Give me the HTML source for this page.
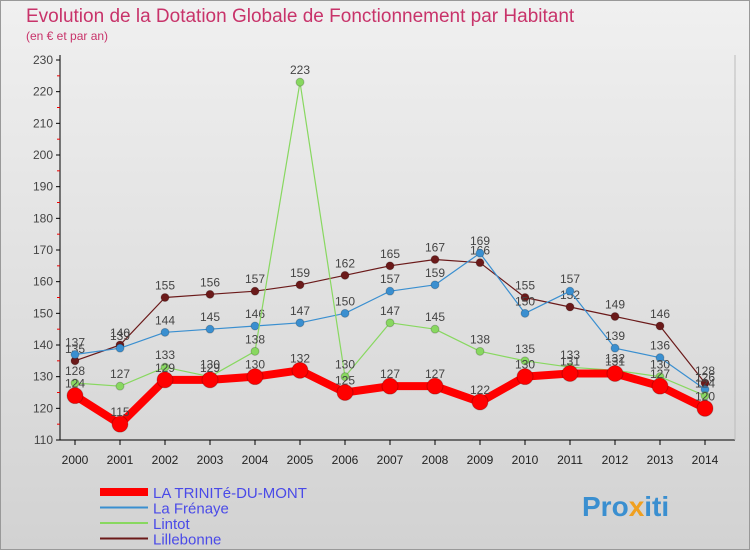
<!DOCTYPE html>
<html><head><meta charset="utf-8"><style>
body{margin:0;width:750px;height:550px;overflow:hidden;font-family:"Liberation Sans",sans-serif;}
</style></head><body>
<svg width="750" height="550" xmlns="http://www.w3.org/2000/svg">
<defs><linearGradient id="bg" x1="0" y1="0" x2="0" y2="1"><stop offset="0" stop-color="#f0f0f0"/><stop offset="1" stop-color="#d2d2d2"/></linearGradient></defs>
<rect x="0" y="0" width="750" height="550" fill="url(#bg)"/>
<rect x="0.5" y="0.5" width="749" height="549" fill="none" stroke="#999"/>
<text x="26" y="22" font-size="19" fill="#c8336a">Evolution de la Dotation Globale de Fonctionnement par Habitant</text>
<text x="26" y="40" font-size="12" fill="#c8336a">(en € et par an)</text>
<g id="axes"></g>
<g id="series"></g>
<g id="legend"></g>
<text x="582" y="516" font-size="28" font-weight="bold" fill="#3a8fd0">Pro<tspan fill="#f0a020">x</tspan>iti</text>
</svg>
<script>
const years=["2000","2001","2002","2003","2004","2005","2006","2007","2008","2009","2010","2011","2012","2013","2014"];
const yTicks=[110,120,130,140,150,160,170,180,190,200,210,220,230];
const trinite=[124,115,129,129,130,132,125,127,127,122,130,131,131,127,120];
const frenaye=[137,139,144,145,146,147,150,157,159,169,150,157,139,136,126];
const lintot=[128,127,133,130,138,223,130,147,145,138,135,133,132,130,124];
const lillebonne=[135,140,155,156,157,159,162,165,167,166,155,152,149,146,128];
const NS="http://www.w3.org/2000/svg";
const x=i=>75+i*45;
const y=v=>440-(v-110)*380/120;
function mk(t,a,p){const e=document.createElementNS(NS,t);for(const k in a)e.setAttribute(k,a[k]);p.appendChild(e);return e;}
const ax=document.getElementById('axes');
const yl=mk('line',{x1:60,y1:55,x2:60,y2:440,stroke:'#000'},ax);


const xl=mk('line',{x1:60,y1:440,x2:735,y2:440,stroke:'#000'},ax);


mk('line',{x1:735,y1:55,x2:735,y2:440,stroke:'#bbb'},ax);
yTicks.forEach(v=>{
 mk('line',{x1:56,y1:y(v),x2:60,y2:y(v),stroke:'#000'},ax);
 if(v<230)mk('line',{x1:57,y1:y(v+5),x2:60,y2:y(v+5),stroke:'#e00'},ax);
 const t=mk('text',{x:53,y:y(v)+4,'font-size':12,'text-anchor':'end',fill:'#444'},ax);t.textContent=v;
 
 
});
years.forEach((yr,i)=>{
 mk('line',{x1:x(i),y1:440,x2:x(i),y2:445,stroke:'#000'},ax);
 const t=mk('text',{x:x(i),y:464,'font-size':12,'text-anchor':'middle',fill:'#222'},ax);t.textContent=yr;
 
 
});
const sg=document.getElementById('series');
const series=[
 {n:'lillebonne',d:lillebonne,c:'#6b1a1a',w:1.2,r:4},
 {n:'la-frenaye',d:frenaye,c:'#3a8fd0',w:1.2,r:4},
 {n:'lintot',d:lintot,c:'#88d860',w:1.2,r:4},
 {n:'la-trinite-du-mont',d:trinite,c:'#f00',w:8,r:8}];
series.forEach(s=>{
 const g=mk('g',{},sg);
 
 
 const p=mk('polyline',{points:s.d.map((v,i)=>x(i)+','+y(v)).join(' '),fill:'none',stroke:s.c,'stroke-width':s.w,'stroke-linejoin':'round'},g);
 
 
 s.d.forEach((v,i)=>{
  const c=mk('circle',{cx:x(i),cy:y(v),r:s.r,fill:s.c,stroke:'rgba(0,0,0,0.2)'},g);
  
  
  const t=mk('text',{x:x(i),y:y(v)-8,'font-size':12,'text-anchor':'middle',fill:'#444'},g);t.textContent=v;
  
  
 });
});
const lg=document.getElementById('legend');
const leg=[['LA TRINITé-DU-MONT','#f00',8],['La Frénaye','#3a8fd0',2],['Lintot','#88d860',2],['Lillebonne','#6b1a1a',2]];
leg.forEach((l,i)=>{
 const yy=492+i*15.5;
 const g=mk('g',{},lg);
 
 
 mk('line',{x1:100,y1:yy,x2:148,y2:yy,stroke:l[1],'stroke-width':l[2]},g);
 const t=mk('text',{x:153,y:yy+6,'font-size':15,fill:'#4a4ae8'},g);t.textContent=l[0];
});
</script>
</body></html>
